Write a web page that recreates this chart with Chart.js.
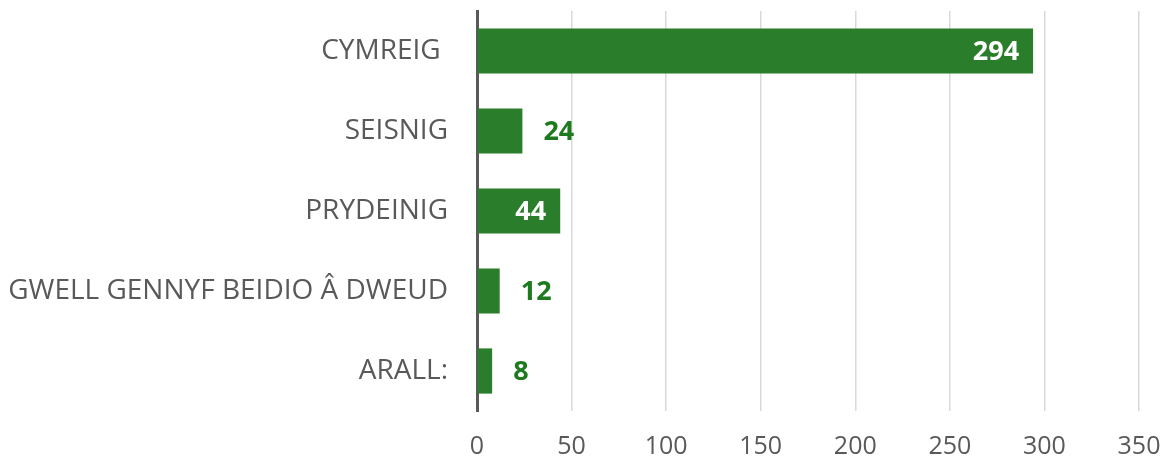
<!DOCTYPE html>
<html>
<head>
<meta charset="utf-8">
<script src="https://cdn.jsdelivr.net/npm/chart.js@4"></script>
<style>
  html, body { margin: 0; padding: 0; background: #fff; }
  #wrap { width: 1173px; height: 466px; position: relative; }
</style>
</head>
<body>
<div id="wrap"><canvas id="chart"></canvas></div>
<script>
const categories = ["CYMREIG ", "SEISNIG", "PRYDEINIG", "GWELL GENNYF BEIDIO Â DWEUD", "ARALL:"];
const counts = [294, 24, 44, 12, 8];
const xTicks = [0, 50, 100, 150, 200, 250, 300, 350];

const fontFamily = "'Open Sans', 'Noto Sans', sans-serif";
const barGreen = "#2a7d2a";

// value labels: inside the bar (white) when it fits, else just past the end (green)
const valueLabels = {
    id: "valueLabels",
    afterDatasetsDraw(chart) {
        const ctx = chart.ctx;
        const meta = chart.getDatasetMeta(0);
        ctx.save();
        ctx.font = "bold 27px " + fontFamily;
        ctx.textBaseline = "middle";
        meta.data.forEach((bar, i) => {
            const text = String(counts[i]);
            const w = ctx.measureText(text).width;
            const barLen = bar.x - bar.base;
            if (barLen > w + 25) {
                ctx.fillStyle = "#ffffff";
                ctx.textAlign = "right";
                ctx.fillText(text, bar.x - 14, bar.y + 1);
            } else {
                ctx.fillStyle = "#1e7a1e";
                ctx.textAlign = "left";
                ctx.fillText(text, bar.x + 21, bar.y + 1);
            }
        });
        ctx.restore();
    }
};

new Chart(document.getElementById("chart"), {
    type: "bar",
    data: {
        labels: categories,
        datasets: [{
            data: counts,
            backgroundColor: barGreen,
            borderWidth: 0,
            barPercentage: 0.565,
            categoryPercentage: 1.0
        }]
    },
    options: {
        indexAxis: "y",
        responsive: true,
        maintainAspectRatio: false,
        animation: false,
        layout: { padding: { top: 11, right: 34, left: 0, bottom: 0 } },
        plugins: {
            legend: { display: false },
            tooltip: { enabled: false }
        },
        scales: {
            x: {
                min: 0,
                max: 350,
                afterBuildTicks(axis) {
                    axis.ticks = xTicks.map(v => ({ value: v }));
                },
                afterFit(axis) {
                    axis.height = 55;
                    axis.paddingLeft = 0;
                    axis.paddingRight = 0;
                },
                grid: { color: "#d9d9d9", lineWidth: 1.5, drawTicks: false },
                border: { display: false },
                ticks: {
                    padding: 21,
                    color: "#595959",
                    font: { family: fontFamily, size: 25 }
                }
            },
            y: {
                afterFit(axis) {
                    axis.width = 477;
                    axis.paddingTop = 0;
                    axis.paddingBottom = 0;
                },
                grid: { display: false, drawTicks: false },
                border: { display: true, color: "#595959", width: 3 },
                ticks: {
                    padding: 29,
                    color: "#595959",
                    font: { family: fontFamily, size: 28 }
                }
            }
        }
    },
    plugins: [valueLabels]
});
</script>
</body>
</html>
